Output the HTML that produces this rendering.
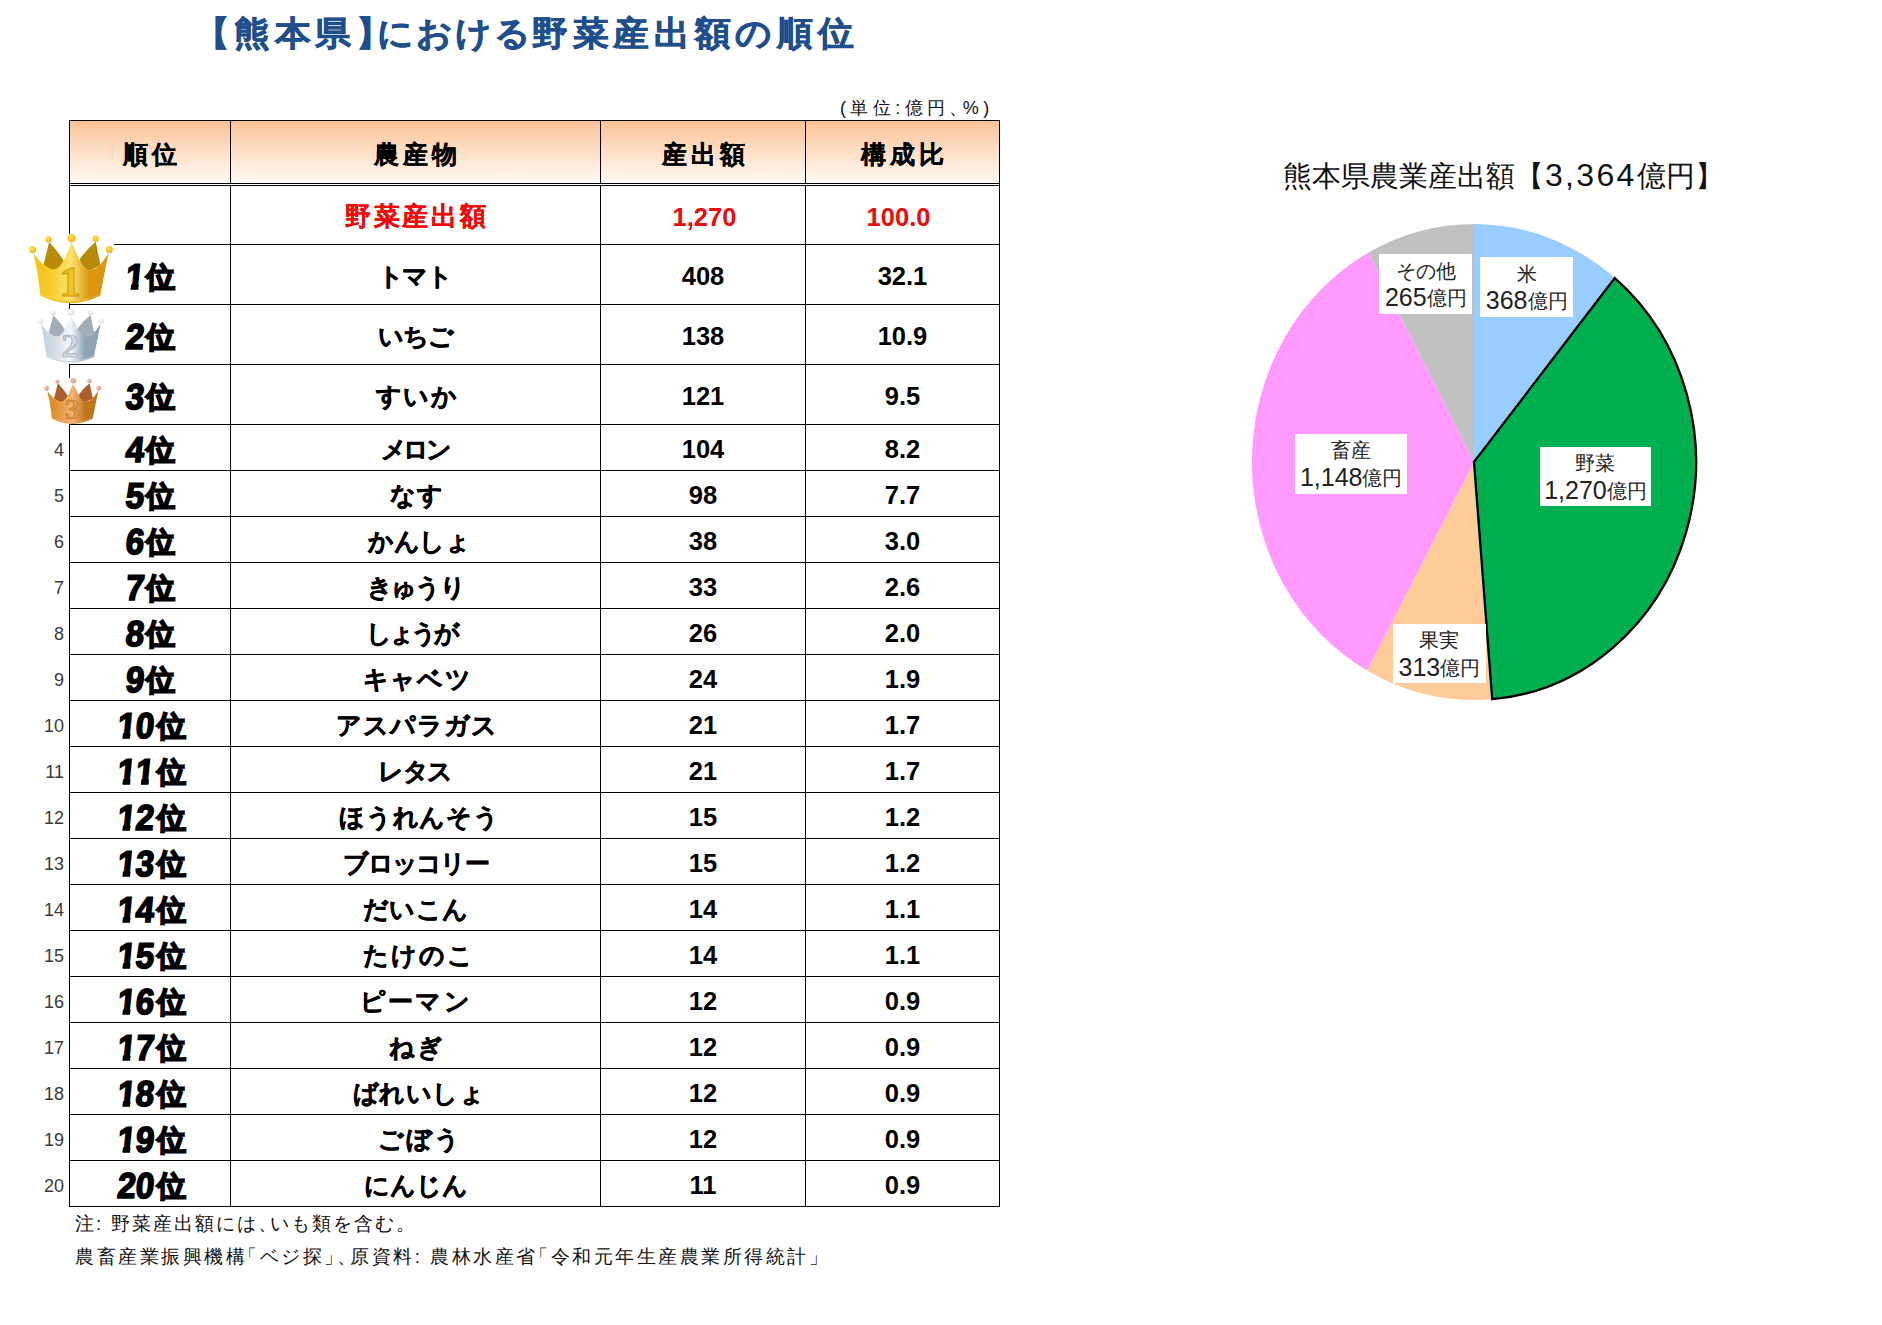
<!DOCTYPE html>
<html lang="ja">
<head>
<meta charset="utf-8">
<title>熊本県における野菜産出額の順位</title>
<style>
html,body{margin:0;padding:0;background:#fff;}
body{width:1882px;height:1325px;position:relative;overflow:hidden;font-family:"Liberation Sans",sans-serif;color:#000;}
.abs{position:absolute;}
.ln{position:absolute;background:#000;}
.title{position:absolute;left:0;top:9.5px;width:1000px;height:48px;font-size:36px;font-weight:bold;color:#1f4e8a;white-space:nowrap;line-height:48px;transform:scaleY(0.95);transform-origin:0 24px;-webkit-text-stroke:0.7px #1f4e8a;}
.title span{position:absolute;top:0;}
.tk{letter-spacing:4.7px;}
.th{letter-spacing:2.0px;}
.unit{position:absolute;left:840px;top:97px;font-size:18px;line-height:22px;white-space:nowrap;letter-spacing:4.4px;color:#111;}
.hd{position:absolute;top:121px;height:62px;background:linear-gradient(to bottom,#fbc296 0%,#fddcc2 45%,#fff6ee 92%,#fffaf6 100%);}
.hd span{position:absolute;left:0;right:0;top:0;height:62px;line-height:66px;text-align:center;font-size:25px;font-weight:bold;letter-spacing:4px;text-indent:4px;-webkit-text-stroke:0.25px #000;}
.c{position:absolute;text-align:center;white-space:nowrap;font-weight:bold;}
.nm{font-size:25px;-webkit-text-stroke:0.5px currentColor;}
.nu{font-size:25.5px;}
.rn{font-size:26px;letter-spacing:2.7px;text-indent:2.7px;-webkit-text-stroke:0.2px currentColor;}
.red{color:#ee0a0a;}
.rk{font-size:28.5px;font-weight:bold;-webkit-text-stroke:1.7px #000;letter-spacing:1px;}
.rk b{font-size:36px;display:inline-block;transform:scaleX(0.92) skewX(-6deg);letter-spacing:0;vertical-align:-2px;line-height:0;}
.rk i{display:inline-block;font-style:normal;line-height:1;clip-path:polygon(0 0,100% 0,100% 67%,74% 67%,74% 100%,33% 100%,33% 67%,0 67%);}
.sn{position:absolute;left:19px;width:45px;text-align:right;font-size:18px;color:#3a3a3a;}
.note{position:absolute;left:75px;font-size:19px;white-space:nowrap;color:#111;}
.hw{margin-right:-0.45em;}
.hl{margin-left:-0.45em;}
.ptitle{position:absolute;left:1283px;top:158px;font-size:29px;line-height:36px;white-space:nowrap;color:#111;}
.pd{font-size:32px;letter-spacing:2.3px;line-height:0;margin-left:1px;}
.pl{position:absolute;background:#fff;text-align:center;font-size:19.5px;white-space:nowrap;color:#222;}
.pl div{position:absolute;left:0;right:0;height:28px;line-height:28px;}
.pl .l1{top:2.5px;}
.pl .l2{top:30px;}
.pl .n{font-size:25px;line-height:0;vertical-align:-1px;}
</style>
</head>
<body>
<div class="title"><span class="t1" style="left:193.5px">【</span><span class="tk" style="left:234px">熊本県</span><span class="t1" style="left:355.5px">】</span><span class="th" style="left:377px">における</span><span class="tk" style="left:532px">野菜産出額の順位</span></div>
<div class="unit">(単位:億円<span style="margin-right:-9px">、</span>%)</div>
<div class="hd" style="left:70px;width:160px"><span>順位</span></div>
<div class="hd" style="left:231px;width:369px"><span>農産物</span></div>
<div class="hd" style="left:601px;width:204px"><span>産出額</span></div>
<div class="hd" style="left:806px;width:193px"><span>構成比</span></div>
<div class="ln" style="left:69px;top:120px;width:931px;height:1px"></div>
<div class="ln" style="left:69px;top:183px;width:931px;height:1px"></div>
<div class="ln" style="left:69px;top:185px;width:931px;height:1px"></div>
<div class="ln" style="left:69px;top:244px;width:931px;height:1px"></div>
<div class="ln" style="left:69px;top:304px;width:931px;height:1px"></div>
<div class="ln" style="left:69px;top:364px;width:931px;height:1px"></div>
<div class="ln" style="left:69px;top:424px;width:931px;height:1px"></div>
<div class="ln" style="left:69px;top:470px;width:931px;height:1px"></div>
<div class="ln" style="left:69px;top:516px;width:931px;height:1px"></div>
<div class="ln" style="left:69px;top:562px;width:931px;height:1px"></div>
<div class="ln" style="left:69px;top:608px;width:931px;height:1px"></div>
<div class="ln" style="left:69px;top:654px;width:931px;height:1px"></div>
<div class="ln" style="left:69px;top:700px;width:931px;height:1px"></div>
<div class="ln" style="left:69px;top:746px;width:931px;height:1px"></div>
<div class="ln" style="left:69px;top:792px;width:931px;height:1px"></div>
<div class="ln" style="left:69px;top:838px;width:931px;height:1px"></div>
<div class="ln" style="left:69px;top:884px;width:931px;height:1px"></div>
<div class="ln" style="left:69px;top:930px;width:931px;height:1px"></div>
<div class="ln" style="left:69px;top:976px;width:931px;height:1px"></div>
<div class="ln" style="left:69px;top:1022px;width:931px;height:1px"></div>
<div class="ln" style="left:69px;top:1068px;width:931px;height:1px"></div>
<div class="ln" style="left:69px;top:1114px;width:931px;height:1px"></div>
<div class="ln" style="left:69px;top:1160px;width:931px;height:1px"></div>
<div class="ln" style="left:69px;top:1206px;width:931px;height:1px"></div>
<div class="ln" style="left:69px;top:120px;width:1px;height:1087px"></div>
<div class="ln" style="left:230px;top:120px;width:1px;height:1087px"></div>
<div class="ln" style="left:600px;top:120px;width:1px;height:1087px"></div>
<div class="ln" style="left:805px;top:120px;width:1px;height:1087px"></div>
<div class="ln" style="left:999px;top:120px;width:1px;height:1087px"></div>
<div class="abs" style="left:70px;top:184px;width:929px;height:1px;background:#fff"></div>
<div class="c nm red rn" style="left:231px;top:187px;width:369px;height:58px;line-height:58px">野菜産出額</div>
<div class="c nu red" style="left:602.5px;top:188px;width:204px;height:58px;line-height:58px">1,270</div>
<div class="c nu red" style="left:802px;top:188px;width:193px;height:58px;line-height:58px">100.0</div>
<div class="c rk" style="left:70.5px;top:248px;width:160px;height:59px;line-height:59px"><b><i>1</i></b>位</div>
<div class="c nm" style="left:229.9px;top:247px;width:369px;height:59px;line-height:59px;letter-spacing:-1.75px">トマト</div>
<div class="c nu" style="left:601px;top:247px;width:204px;height:59px;line-height:59px">408</div>
<div class="c nu" style="left:806px;top:247px;width:193px;height:59px;line-height:59px">32.1</div>
<div class="c rk" style="left:70.5px;top:308px;width:160px;height:59px;line-height:59px"><b>2</b>位</div>
<div class="c nm" style="left:231.3px;top:307px;width:369px;height:59px;line-height:59px;letter-spacing:-0.85px">いちご</div>
<div class="c nu" style="left:601px;top:307px;width:204px;height:59px;line-height:59px">138</div>
<div class="c nu" style="left:806px;top:307px;width:193px;height:59px;line-height:59px">10.9</div>
<div class="c rk" style="left:70.5px;top:368px;width:160px;height:59px;line-height:59px"><b>3</b>位</div>
<div class="c nm" style="left:232.9px;top:367px;width:369px;height:59px;line-height:59px;letter-spacing:1.80px">すいか</div>
<div class="c nu" style="left:601px;top:367px;width:204px;height:59px;line-height:59px">121</div>
<div class="c nu" style="left:806px;top:367px;width:193px;height:59px;line-height:59px">9.5</div>
<div class="c rk" style="left:70.5px;top:428px;width:160px;height:45px;line-height:45px"><b>4</b>位</div>
<div class="c nm" style="left:230.1px;top:427px;width:369px;height:45px;line-height:45px;letter-spacing:-3.35px">メロン</div>
<div class="c nu" style="left:601px;top:427px;width:204px;height:45px;line-height:45px">104</div>
<div class="c nu" style="left:806px;top:427px;width:193px;height:45px;line-height:45px">8.2</div>
<div class="sn" style="top:427px;height:46px;line-height:46px">4</div>
<div class="c rk" style="left:70.5px;top:474px;width:160px;height:45px;line-height:45px"><b>5</b>位</div>
<div class="c nm" style="left:232.9px;top:473px;width:369px;height:45px;line-height:45px;letter-spacing:1.10px">なす</div>
<div class="c nu" style="left:601px;top:473px;width:204px;height:45px;line-height:45px">98</div>
<div class="c nu" style="left:806px;top:473px;width:193px;height:45px;line-height:45px">7.7</div>
<div class="sn" style="top:473px;height:46px;line-height:46px">5</div>
<div class="c rk" style="left:70.5px;top:520px;width:160px;height:45px;line-height:45px"><b>6</b>位</div>
<div class="c nm" style="left:235.0px;top:519px;width:369px;height:45px;line-height:45px;letter-spacing:-0.13px">かんしょ</div>
<div class="c nu" style="left:601px;top:519px;width:204px;height:45px;line-height:45px">38</div>
<div class="c nu" style="left:806px;top:519px;width:193px;height:45px;line-height:45px">3.0</div>
<div class="sn" style="top:519px;height:46px;line-height:46px">6</div>
<div class="c rk" style="left:70.5px;top:566px;width:160px;height:45px;line-height:45px"><b>7</b>位</div>
<div class="c nm" style="left:230.9px;top:565px;width:369px;height:45px;line-height:45px;letter-spacing:-1.73px">きゅうり</div>
<div class="c nu" style="left:601px;top:565px;width:204px;height:45px;line-height:45px">33</div>
<div class="c nu" style="left:806px;top:565px;width:193px;height:45px;line-height:45px">2.6</div>
<div class="sn" style="top:565px;height:46px;line-height:46px">7</div>
<div class="c rk" style="left:70.5px;top:612px;width:160px;height:45px;line-height:45px"><b>8</b>位</div>
<div class="c nm" style="left:227.0px;top:611px;width:369px;height:45px;line-height:45px;letter-spacing:-3.40px">しょうが</div>
<div class="c nu" style="left:601px;top:611px;width:204px;height:45px;line-height:45px">26</div>
<div class="c nu" style="left:806px;top:611px;width:193px;height:45px;line-height:45px">2.0</div>
<div class="sn" style="top:611px;height:46px;line-height:46px">8</div>
<div class="c rk" style="left:70.5px;top:658px;width:160px;height:45px;line-height:45px"><b>9</b>位</div>
<div class="c nm" style="left:233.0px;top:657px;width:369px;height:45px;line-height:45px;letter-spacing:1.07px">キャベツ</div>
<div class="c nu" style="left:601px;top:657px;width:204px;height:45px;line-height:45px">24</div>
<div class="c nu" style="left:806px;top:657px;width:193px;height:45px;line-height:45px">1.9</div>
<div class="sn" style="top:657px;height:46px;line-height:46px">9</div>
<div class="c rk" style="left:71.5px;top:704px;width:160px;height:45px;line-height:45px"><b><i>1</i>0</b>位</div>
<div class="c nm" style="left:232.5px;top:703px;width:369px;height:45px;line-height:45px;letter-spacing:0.91px">アスパラガス</div>
<div class="c nu" style="left:601px;top:703px;width:204px;height:45px;line-height:45px">21</div>
<div class="c nu" style="left:806px;top:703px;width:193px;height:45px;line-height:45px">1.7</div>
<div class="sn" style="top:703px;height:46px;line-height:46px">10</div>
<div class="c rk" style="left:71.5px;top:750px;width:160px;height:45px;line-height:45px"><b><i>1</i><i>1</i></b>位</div>
<div class="c nm" style="left:230.6px;top:749px;width:369px;height:45px;line-height:45px;letter-spacing:-1.25px">レタス</div>
<div class="c nu" style="left:601px;top:749px;width:204px;height:45px;line-height:45px">21</div>
<div class="c nu" style="left:806px;top:749px;width:193px;height:45px;line-height:45px">1.7</div>
<div class="sn" style="top:749px;height:46px;line-height:46px">11</div>
<div class="c rk" style="left:71.5px;top:796px;width:160px;height:45px;line-height:45px"><b><i>1</i>2</b>位</div>
<div class="c nm" style="left:234.9px;top:795px;width:369px;height:45px;line-height:45px;letter-spacing:0.64px">ほうれんそう</div>
<div class="c nu" style="left:601px;top:795px;width:204px;height:45px;line-height:45px">15</div>
<div class="c nu" style="left:806px;top:795px;width:193px;height:45px;line-height:45px">1.2</div>
<div class="sn" style="top:795px;height:46px;line-height:46px">12</div>
<div class="c rk" style="left:71.5px;top:842px;width:160px;height:45px;line-height:45px"><b><i>1</i>3</b>位</div>
<div class="c nm" style="left:231.1px;top:841px;width:369px;height:45px;line-height:45px;letter-spacing:-1.72px">ブロッコリー</div>
<div class="c nu" style="left:601px;top:841px;width:204px;height:45px;line-height:45px">15</div>
<div class="c nu" style="left:806px;top:841px;width:193px;height:45px;line-height:45px">1.2</div>
<div class="sn" style="top:841px;height:46px;line-height:46px">13</div>
<div class="c rk" style="left:71.5px;top:888px;width:160px;height:45px;line-height:45px"><b><i>1</i>4</b>位</div>
<div class="c nm" style="left:231.3px;top:887px;width:369px;height:45px;line-height:45px;letter-spacing:0.43px">だいこん</div>
<div class="c nu" style="left:601px;top:887px;width:204px;height:45px;line-height:45px">14</div>
<div class="c nu" style="left:806px;top:887px;width:193px;height:45px;line-height:45px">1.1</div>
<div class="sn" style="top:887px;height:46px;line-height:46px">14</div>
<div class="c rk" style="left:71.5px;top:934px;width:160px;height:45px;line-height:45px"><b><i>1</i>5</b>位</div>
<div class="c nm" style="left:234.4px;top:933px;width:369px;height:45px;line-height:45px;letter-spacing:1.80px">たけのこ</div>
<div class="c nu" style="left:601px;top:933px;width:204px;height:45px;line-height:45px">14</div>
<div class="c nu" style="left:806px;top:933px;width:193px;height:45px;line-height:45px">1.1</div>
<div class="sn" style="top:933px;height:46px;line-height:46px">15</div>
<div class="c rk" style="left:71.5px;top:980px;width:160px;height:45px;line-height:45px"><b><i>1</i>6</b>位</div>
<div class="c nm" style="left:231.5px;top:979px;width:369px;height:45px;line-height:45px;letter-spacing:2.07px">ピーマン</div>
<div class="c nu" style="left:601px;top:979px;width:204px;height:45px;line-height:45px">12</div>
<div class="c nu" style="left:806px;top:979px;width:193px;height:45px;line-height:45px">0.9</div>
<div class="sn" style="top:979px;height:46px;line-height:46px">16</div>
<div class="c rk" style="left:71.5px;top:1026px;width:160px;height:45px;line-height:45px"><b><i>1</i>7</b>位</div>
<div class="c nm" style="left:232.3px;top:1025px;width:369px;height:45px;line-height:45px;letter-spacing:1.30px">ねぎ</div>
<div class="c nu" style="left:601px;top:1025px;width:204px;height:45px;line-height:45px">12</div>
<div class="c nu" style="left:806px;top:1025px;width:193px;height:45px;line-height:45px">0.9</div>
<div class="sn" style="top:1025px;height:46px;line-height:46px">17</div>
<div class="c rk" style="left:71.5px;top:1072px;width:160px;height:45px;line-height:45px"><b><i>1</i>8</b>位</div>
<div class="c nm" style="left:234.7px;top:1071px;width:369px;height:45px;line-height:45px;letter-spacing:0.50px">ばれいしょ</div>
<div class="c nu" style="left:601px;top:1071px;width:204px;height:45px;line-height:45px">12</div>
<div class="c nu" style="left:806px;top:1071px;width:193px;height:45px;line-height:45px">0.9</div>
<div class="sn" style="top:1071px;height:46px;line-height:46px">18</div>
<div class="c rk" style="left:71.5px;top:1118px;width:160px;height:45px;line-height:45px"><b><i>1</i>9</b>位</div>
<div class="c nm" style="left:235.1px;top:1117px;width:369px;height:45px;line-height:45px;letter-spacing:1.85px">ごぼう</div>
<div class="c nu" style="left:601px;top:1117px;width:204px;height:45px;line-height:45px">12</div>
<div class="c nu" style="left:806px;top:1117px;width:193px;height:45px;line-height:45px">0.9</div>
<div class="sn" style="top:1117px;height:46px;line-height:46px">19</div>
<div class="c rk" style="left:71.5px;top:1164px;width:160px;height:45px;line-height:45px"><b>20</b>位</div>
<div class="c nm" style="left:231.4px;top:1163px;width:369px;height:45px;line-height:45px;letter-spacing:0.03px">にんじん</div>
<div class="c nu" style="left:601px;top:1163px;width:204px;height:45px;line-height:45px">11</div>
<div class="c nu" style="left:806px;top:1163px;width:193px;height:45px;line-height:45px">0.9</div>
<div class="sn" style="top:1163px;height:46px;line-height:46px">20</div>
<div class="note" style="top:1212px;line-height:24px;letter-spacing:2.0px">注: 野菜産出額には<span class="hw">、</span>いも類を含む。</div>
<div class="note" style="top:1245px;line-height:24px;letter-spacing:2.5px">農畜産業振興機構<span class="hl">「</span>ベジ探<span class="hw">」</span><span class="hw">、</span>原資料: 農林水産省<span class="hl">「</span>令和元年生産農業所得統計<span class="hw">」</span></div>
<div class="abs" style="left:24px;top:234px;width:90px;height:69px;background:#fff"></div>
<div class="abs" style="left:34px;top:309px;width:74px;height:55px;background:#fff"></div>
<div class="abs" style="left:40px;top:378px;width:64px;height:46px;background:#fff"></div>
<svg class="abs" style="left:20.0px;top:225.0px" width="105.0" height="85.0" viewBox="0 0 105 85" preserveAspectRatio="none">
<defs>
<linearGradient id="g1a" x1="0" y1="0" x2="1" y2="0"><stop offset="0" stop-color="#f5c61d"/><stop offset="0.15" stop-color="#f5c61d"/><stop offset="0.50" stop-color="#fde26c"/><stop offset="0.74" stop-color="#d9980f"/><stop offset="1" stop-color="#d9980f"/></linearGradient>
<linearGradient id="g1b" x1="0" y1="0" x2="1" y2="0"><stop offset="0" stop-color="#f5c61d"/><stop offset="0.5" stop-color="#f3c31f"/><stop offset="1" stop-color="#d9980f"/></linearGradient>
<radialGradient id="g1c" cx="0.4" cy="0.35" r="0.7"><stop offset="0" stop-color="#ffe14d"/><stop offset="1" stop-color="#e9b415"/></radialGradient>
</defs>
<path d="M29.2 17 L23.5 40 L36 48 L44 36 Q36 24 29.2 17 Z" fill="#b88a0a"/>
<path d="M75.7 16.8 Q66 25 59.5 34.5 L66 48 L80.5 40 Z" fill="#b88a0a"/>
<path d="M13.6 28.2 C18 34 26 45 34.5 44.3 C39 43.8 43 37 45 32.5 L51.7 17.3 L58.5 32.5 C61 37.5 64 44.8 70.3 44.8 C78 44.8 84 35 88.6 28.2 Q84 50 80.5 69 Q50.5 83.5 20.3 69 Q18 48 13.6 28.2 Z" fill="url(#g1a)"/>
<path d="M20.3 69 Q50.5 83.5 80.5 69 L80.6 70.6 Q50.5 86 20.2 70.6 Z" fill="url(#g1b)"/>
<circle cx="12.7" cy="24.7" r="3.5" fill="url(#g1c)"/>
<circle cx="28.7" cy="14.4" r="3.2" fill="url(#g1c)"/>
<circle cx="51.7" cy="13.1" r="4.2" fill="url(#g1c)"/>
<circle cx="75.6" cy="13.8" r="3.2" fill="url(#g1c)"/>
<circle cx="89.3" cy="24.4" r="3.5" fill="url(#g1c)"/>
<text x="50.3" y="71.2" text-anchor="middle" font-family="Liberation Serif,serif" font-weight="bold" font-size="43" fill="#f3c31f" stroke="#c99410" stroke-width="0.9">1</text>
</svg>
<svg class="abs" style="left:30.0px;top:302.4px" width="83.8" height="65.9" viewBox="0 0 105 85" preserveAspectRatio="none">
<defs>
<linearGradient id="g2a" x1="0" y1="0" x2="1" y2="0"><stop offset="0" stop-color="#c9d5df"/><stop offset="0.15" stop-color="#c9d5df"/><stop offset="0.50" stop-color="#f3f6f9"/><stop offset="0.74" stop-color="#8ea3b3"/><stop offset="1" stop-color="#8ea3b3"/></linearGradient>
<linearGradient id="g2b" x1="0" y1="0" x2="1" y2="0"><stop offset="0" stop-color="#c9d5df"/><stop offset="0.5" stop-color="#cfd8e0"/><stop offset="1" stop-color="#8ea3b3"/></linearGradient>
<radialGradient id="g2c" cx="0.4" cy="0.35" r="0.7"><stop offset="0" stop-color="#ffffff"/><stop offset="1" stop-color="#d3dbe2"/></radialGradient>
</defs>
<path d="M29.2 17 L23.5 40 L36 48 L44 36 Q36 24 29.2 17 Z" fill="#a3adb7"/>
<path d="M75.7 16.8 Q66 25 59.5 34.5 L66 48 L80.5 40 Z" fill="#a3adb7"/>
<path d="M13.6 28.2 C18 34 26 45 34.5 44.3 C39 43.8 43 37 45 32.5 L51.7 17.3 L58.5 32.5 C61 37.5 64 44.8 70.3 44.8 C78 44.8 84 35 88.6 28.2 Q84 50 80.5 69 Q50.5 83.5 20.3 69 Q18 48 13.6 28.2 Z" fill="url(#g2a)"/>
<path d="M20.3 69 Q50.5 83.5 80.5 69 L80.6 70.6 Q50.5 86 20.2 70.6 Z" fill="url(#g2b)"/>
<circle cx="12.7" cy="24.7" r="3.5" fill="url(#g2c)"/>
<circle cx="28.7" cy="14.4" r="3.2" fill="url(#g2c)"/>
<circle cx="51.7" cy="13.1" r="4.2" fill="url(#g2c)"/>
<circle cx="75.6" cy="13.8" r="3.2" fill="url(#g2c)"/>
<circle cx="89.3" cy="24.4" r="3.5" fill="url(#g2c)"/>
<text x="50.3" y="71.2" text-anchor="middle" font-family="Liberation Serif,serif" font-weight="bold" font-size="43" fill="#cfd8e0" stroke="#9aa7b3" stroke-width="0.9">2</text>
</svg>
<svg class="abs" style="left:37.8px;top:372.1px" width="71.6" height="56.4" viewBox="0 0 105 85" preserveAspectRatio="none">
<defs>
<linearGradient id="g3a" x1="0" y1="0" x2="1" y2="0"><stop offset="0" stop-color="#dc9130"/><stop offset="0.15" stop-color="#dc9130"/><stop offset="0.50" stop-color="#f1b377"/><stop offset="0.74" stop-color="#bf751c"/><stop offset="1" stop-color="#bf751c"/></linearGradient>
<linearGradient id="g3b" x1="0" y1="0" x2="1" y2="0"><stop offset="0" stop-color="#dc9130"/><stop offset="0.5" stop-color="#e39a45"/><stop offset="1" stop-color="#bf751c"/></linearGradient>
<radialGradient id="g3c" cx="0.4" cy="0.35" r="0.7"><stop offset="0" stop-color="#ecc9ad"/><stop offset="1" stop-color="#c9987a"/></radialGradient>
</defs>
<path d="M29.2 17 L23.5 40 L36 48 L44 36 Q36 24 29.2 17 Z" fill="#a9602c"/>
<path d="M75.7 16.8 Q66 25 59.5 34.5 L66 48 L80.5 40 Z" fill="#a9602c"/>
<path d="M13.6 28.2 C18 34 26 45 34.5 44.3 C39 43.8 43 37 45 32.5 L51.7 17.3 L58.5 32.5 C61 37.5 64 44.8 70.3 44.8 C78 44.8 84 35 88.6 28.2 Q84 50 80.5 69 Q50.5 83.5 20.3 69 Q18 48 13.6 28.2 Z" fill="url(#g3a)"/>
<path d="M20.3 69 Q50.5 83.5 80.5 69 L80.6 70.6 Q50.5 86 20.2 70.6 Z" fill="url(#g3b)"/>
<circle cx="12.7" cy="24.7" r="3.5" fill="url(#g3c)"/>
<circle cx="28.7" cy="14.4" r="3.2" fill="url(#g3c)"/>
<circle cx="51.7" cy="13.1" r="4.2" fill="url(#g3c)"/>
<circle cx="75.6" cy="13.8" r="3.2" fill="url(#g3c)"/>
<circle cx="89.3" cy="24.4" r="3.5" fill="url(#g3c)"/>
<text x="50.3" y="71.2" text-anchor="middle" font-family="Liberation Serif,serif" font-weight="bold" font-size="43" fill="#e39a45" stroke="#b97326" stroke-width="0.9">3</text>
</svg>
<div class="ptitle">熊本県農業産出額【<span class="pd">3,364</span>億円】</div>
<svg class="abs" style="left:0;top:0" width="1882" height="1325" viewBox="0 0 1882 1325">
<path d="M1474 462 L1474.00 224.00 A222 238 0 0 1 1614.86 278.04 Z" fill="#99ccff"/>
<path d="M1474 462 L1492.22 699.20 A222 238 0 0 1 1367.09 670.59 Z" fill="#ffcc99"/>
<path d="M1474 462 L1367.09 670.59 A222 238 0 0 1 1368.55 252.56 Z" fill="#ff99ff"/>
<path d="M1474 462 L1368.55 252.56 A222 238 0 0 1 1474.00 224.00 Z" fill="#c0c0c0"/>
<path d="M1474 462 L1614.86 278.04 A222 238 0 0 1 1492.22 699.20 Z" fill="#00b050" stroke="#000" stroke-width="2.3" stroke-linejoin="miter"/>
</svg>
<div class="pl" style="left:1480.1px;top:257.2px;width:93.1px;height:60.1px"><div class="l1">米</div><div class="l2"><span class="n">368</span>億円</div></div>
<div class="pl" style="left:1379.1px;top:254.0px;width:93.4px;height:59.5px"><div class="l1">その他</div><div class="l2"><span class="n">265</span>億円</div></div>
<div class="pl" style="left:1539.7px;top:446.6px;width:111.6px;height:59.9px"><div class="l1">野菜</div><div class="l2"><span class="n">1,270</span>億円</div></div>
<div class="pl" style="left:1295.3px;top:433.8px;width:111.8px;height:60.2px"><div class="l1">畜産</div><div class="l2"><span class="n">1,148</span>億円</div></div>
<div class="pl" style="left:1393.0px;top:623.6px;width:92.8px;height:59.9px"><div class="l1">果実</div><div class="l2"><span class="n">313</span>億円</div></div>
</body>
</html>
